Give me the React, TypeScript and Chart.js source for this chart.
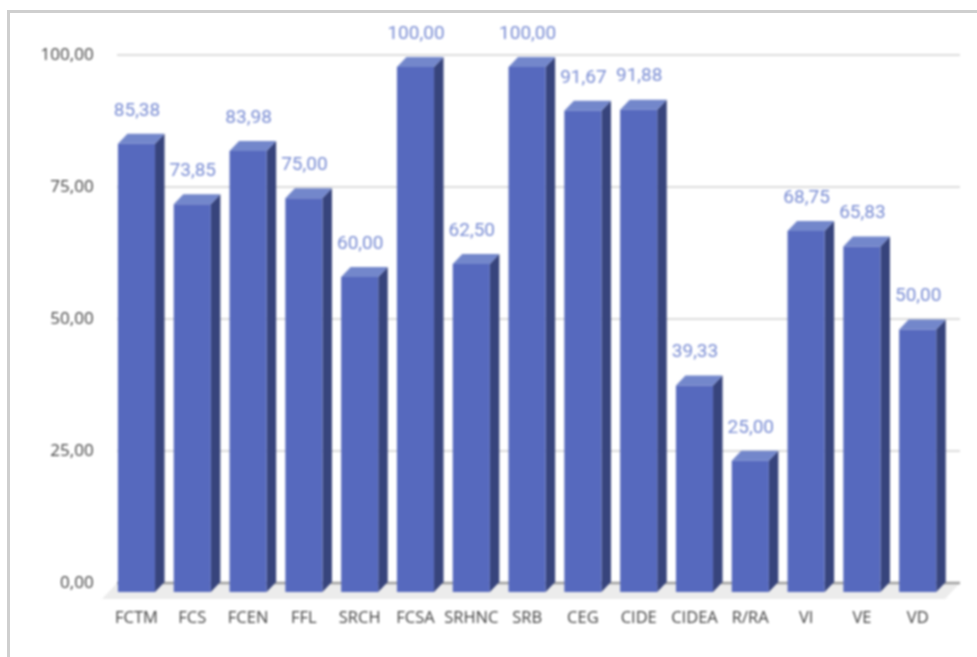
import React, { useEffect, useRef } from "react";
import { Chart, registerables } from "chart.js";

Chart.register(...registerables);

const categories = ["FCTM", "FCS", "FCEN", "FFL", "SRCH", "FCSA", "SRHNC", "SRB", "CEG", "CIDE", "CIDEA", "R/RA", "VI", "VE", "VD"];
const values = [85.38, 73.85, 83.98, 75.0, 60.0, 100.0, 62.5, 100.0, 91.67, 91.88, 39.33, 25.0, 68.75, 65.83, 50.0];
const gridTicks = [0, 25, 50, 75, 100];

const fmt = (v: number) => v.toFixed(2).replace(".", ",");
const DEPTH_X = 9.5;
const DEPTH_Y = 10;

const poly = (ctx: CanvasRenderingContext2D, pts: number[][], fill: string) => {
  ctx.beginPath();
  pts.forEach(([x, y], i) => (i ? ctx.lineTo(x, y) : ctx.moveTo(x, y)));
  ctx.closePath();
  ctx.fillStyle = fill;
  ctx.fill();
};

const threeD = {
  id: "threeD",
  beforeDatasetsDraw(chart: any) {
    const { ctx, chartArea: a, scales } = chart;
    const left = a.left + 8.4;
    const right = a.right + 14.4;
    const y0 = scales.y.getPixelForValue(0);
    ctx.save();
    poly(ctx, [[left, y0], [right, y0], [right - 15, y0 + 16], [left - 15, y0 + 16]], "#ececec");
    gridTicks.forEach((t) => {
      const y = scales.y.getPixelForValue(t);
      ctx.beginPath();
      ctx.moveTo(left, y);
      ctx.lineTo(right, y);
      ctx.strokeStyle = t === 0 ? "#a0a0a0" : "#d0d0d0";
      ctx.lineWidth = t === 0 ? 2.5 : 1.5;
      ctx.stroke();
    });
    const meta = chart.getDatasetMeta(0);
    meta.data.forEach((bar: any) => {
      const l = bar.x - bar.width / 2;
      const r = bar.x + bar.width / 2;
      const t = bar.y;
      const b = bar.base;
      poly(ctx, [[r, t], [r + DEPTH_X, t - DEPTH_Y], [r + DEPTH_X, b - DEPTH_Y], [r, b]], "#37447c");
      poly(ctx, [[l, t], [l + DEPTH_X, t - DEPTH_Y], [r + DEPTH_X, t - DEPTH_Y], [r, t]], "#7387cb");
    });
    ctx.restore();
  },
  afterDatasetsDraw(chart: any) {
    const { ctx } = chart;
    ctx.save();
    ctx.font = "19px Roboto";
    ctx.fillStyle = "#7a8dd4";
    ctx.textAlign = "center";
    ctx.textBaseline = "middle";
    chart.getDatasetMeta(0).data.forEach((bar: any, i: number) => {
      ctx.fillText(fmt(values[i]), bar.x + 0.5, bar.y - 33);
    });
    ctx.restore();
  },
};

export default function App() {
  const ref = useRef<HTMLCanvasElement>(null);
  useEffect(() => {
    const chart = new Chart(ref.current!, {
      type: "bar",
      data: {
        labels: categories,
        datasets: [
          {
            data: values,
            yAxisID: "y2",
            backgroundColor: "#5669be",
            borderWidth: 0,
            barPercentage: 0.665,
            categoryPercentage: 1,
          },
        ],
      },
      options: {
        responsive: false,
        animation: false,
        layout: { padding: { top: 55, right: 31.4, left: 0, bottom: 0 } },
        plugins: { legend: { display: false }, tooltip: { enabled: false } },
        scales: {
          x: {
            grid: { display: false, drawTicks: false },
            border: { display: false },
            afterFit: (s: any) => { s.height = 65; },
            ticks: {
              color: "#3f3f3f",
              font: { family: "Open Sans", size: 16.5 },
              padding: 16.5,
              maxRotation: 0,
              autoSkip: false,
            },
          },
          y: {
            min: -1.705,
            max: 100,
            position: "left",
            afterBuildTicks: (s: any) => { s.ticks = gridTicks.map((value) => ({ value })); },
            afterFit: (s: any) => { s.width = 108.6; },
            grid: { display: false, drawTicks: false },
            border: { display: false },
            ticks: {
              color: "#3f3f3f",
              font: { family: "Open Sans", size: 17 },
              padding: 15,
              callback: (v: any) => fmt(Number(v)),
            },
          },
          y2: { display: false, min: 0, max: 102.29 },
        },
      },
      plugins: [threeD],
    } as any);
    return () => chart.destroy();
  }, []);
  return (
    <div style={{ position: "fixed", left: 0, top: 0, width: 977, height: 657, background: "#fff", overflow: "hidden" }}>
      <div style={{ position: "absolute", left: 7, top: 10, width: 970, height: 647, borderLeft: "3px solid #cfcfcf", borderTop: "3px solid #cfcfcf", boxSizing: "border-box" }} />
      <canvas ref={ref} width={977} height={657} style={{ position: "absolute", left: 0, top: 0, filter: "blur(0.8px)" }} />
    </div>
  );
}
